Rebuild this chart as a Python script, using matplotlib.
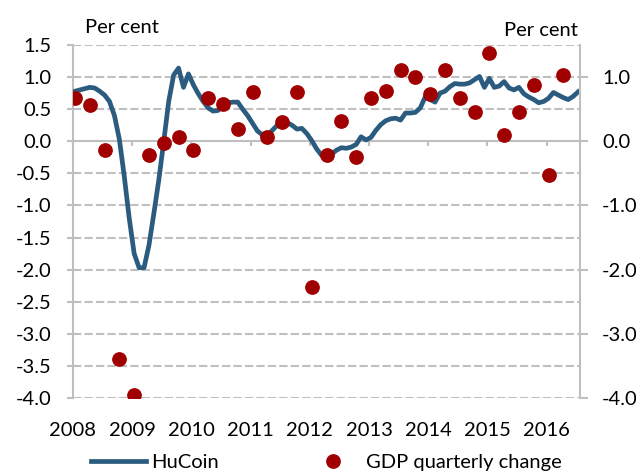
import numpy as np
import matplotlib
matplotlib.use("Agg")
import matplotlib.pyplot as plt
from matplotlib.lines import Line2D

plt.rcParams["font.family"] = ["Lato", "DejaVu Sans"]
plt.rcParams["font.size"] = 14.5

# HuCoin, monthly, Jan 2008 - Jul 2016
hucoin = [
    0.78, 0.80, 0.82, 0.84, 0.83, 0.78, 0.72, 0.62, 0.40, 0.03, -0.55, -1.20,
    -1.75, -1.97, -1.97, -1.62, -1.12, -0.60, 0.00, 0.62, 1.03, 1.14, 0.84, 1.05,
    0.88, 0.74, 0.62, 0.52, 0.47, 0.48, 0.55, 0.60, 0.61, 0.61, 0.50, 0.40,
    0.28, 0.16, 0.10, 0.09, 0.17, 0.25, 0.31, 0.29, 0.25, 0.19, 0.20, 0.12,
    0.01, -0.12, -0.22, -0.23, -0.20, -0.14, -0.10, -0.11, -0.09, -0.05, 0.07, 0.02,
    0.06, 0.17, 0.26, 0.32, 0.35, 0.36, 0.33, 0.44, 0.44, 0.45, 0.52, 0.69,
    0.65, 0.61, 0.75, 0.78, 0.85, 0.90, 0.89, 0.89, 0.91, 0.96, 1.01, 0.84,
    0.98, 0.84, 0.86, 0.93, 0.83, 0.80, 0.84, 0.74, 0.69, 0.65, 0.60, 0.62,
    0.67, 0.76, 0.72, 0.68, 0.65, 0.70, 0.77,
]

# GDP quarterly change, 2008Q1 - 2016Q2
gdp = [
    0.67, 0.56, -0.13, -3.39, -3.96, -0.21, -0.02, 0.06,
    -0.13, 0.67, 0.58, 0.19, 0.77, 0.06, 0.30, 0.77,
    -2.27, -0.22, 0.31, -0.24, 0.67, 0.78, 1.11, 1.00,
    0.74, 1.11, 0.67, 0.46, 1.38, 0.10, 0.45, 0.88,
    -0.53, 1.04,
]

years = list(range(2008, 2017))
left_ticks = np.arange(-4.0, 1.51, 0.5)
right_ticks = np.arange(-4.0, 1.01, 1.0)

months = np.arange(len(hucoin))
x_line = 2008 + (months + 0.4) / 12
x_gdp = 2008 + (np.arange(len(gdp)) * 3 + 0.4) / 12

line_color = "#2B5C80"
dot_color = "#A00000"
grey = "#BFBFBF"

fig = plt.figure(figsize=(6.44, 4.73), dpi=100)
ax = fig.add_axes([73 / 644, 1 - 398 / 473, (580 - 73) / 644, (398 - 45) / 473])

for v in left_ticks:
    if abs(v) > 1e-9:
        ax.axhline(v, color=grey, lw=1.5, ls=(0, (4, 1.5)), zorder=1)

ax.plot(x_line, hucoin, color=line_color, lw=3.4, solid_joinstyle="round", zorder=3)
ax.plot(x_gdp, gdp, "o", color=dot_color, ms=9.6, zorder=4)

ax.set_xlim(2008, 2016.565)
ax.set_ylim(-4.0, 1.5)
ax.set_yticks(left_ticks)
ax.set_yticklabels([f"{v:.1f}" for v in left_ticks])
ax.tick_params(axis="y", direction="out", length=4.3, width=1.5, color=grey, pad=11)

# x axis line sits at zero, year labels stay at the bottom
ax.spines["bottom"].set_position(("data", 0))
ax.spines["bottom"].set_color(grey)
ax.spines["bottom"].set_linewidth(1.5)
ax.set_xticks(years)
ax.tick_params(axis="x", direction="out", length=3.8, width=1.5, color=grey, labelbottom=False)

sec = ax.secondary_xaxis("bottom")
sec.set_xticks(years)
sec.set_xticklabels([str(y) for y in years])
sec.tick_params(length=0, pad=17)
sec.spines["bottom"].set_visible(False)

for s in ["top", "right"]:
    ax.spines[s].set_visible(False)
ax.spines["left"].set_color(grey)
ax.spines["left"].set_linewidth(1.5)

ax2 = ax.twinx()
ax2.set_ylim(-4.0, 1.5)
ax2.set_yticks(right_ticks)
ax2.set_yticklabels([f"{v:.1f}" for v in right_ticks])
ax2.tick_params(axis="y", direction="out", length=5.8, width=1.5, color=grey, pad=10)
for s in ["top", "left", "bottom"]:
    ax2.spines[s].set_visible(False)
ax2.spines["right"].set_color(grey)
ax2.spines["right"].set_linewidth(1.5)

fig.text(85 / 644, 1 - 33 / 473, "Per cent", ha="left", va="baseline")
fig.text(578 / 644, 1 - 36 / 473, "Per cent", ha="right", va="baseline")

handles = [
    Line2D([], [], color=line_color, lw=3.4),
    Line2D([], [], ls="", marker="o", color=dot_color, ms=9.6),
]
fig.legend(handles, ["HuCoin", "GDP quarterly change"], loc="center",
           bbox_to_anchor=(326 / 644, 1 - 462 / 473), ncol=2, frameon=False,
           handlelength=2.75, handletextpad=0.25, columnspacing=4.3,
           borderpad=0, borderaxespad=0)

fig.savefig("out.png", dpi=100)
